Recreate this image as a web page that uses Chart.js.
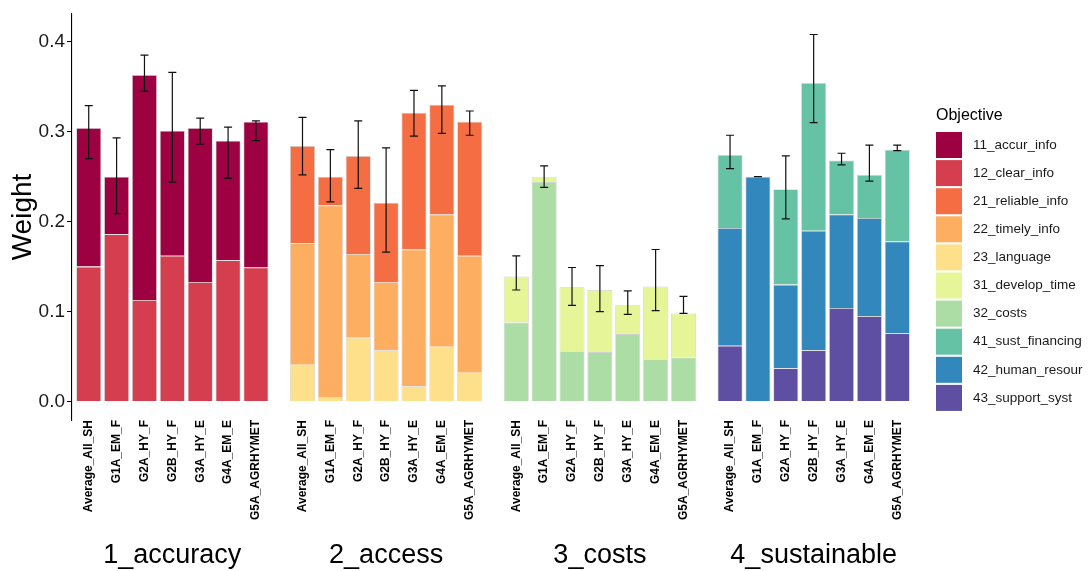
<!DOCTYPE html>
<html>
<head>
<meta charset="utf-8">
<script src="https://cdn.jsdelivr.net/npm/chart.js@4.4.1/dist/chart.umd.min.js"></script>
<style>
	body { margin: 0; background: #fff; }
	#myChart { display: block; }
</style>
</head>
<body>
<canvas id="myChart" width="1090" height="571"></canvas>
<script>
var groups = ['Average_All_SH', 'G1A_EM_F', 'G2A_HY_F', 'G2B_HY_F', 'G3A_HY_E', 'G4A_EM_E', 'G5A_AGRHYMET'];
var facets = ['1_accuracy', '2_access', '3_costs', '4_sustainable'];
var objectives = ['11_accur_info', '12_clear_info', '21_reliable_info', '22_timely_info', '23_language',
	'31_develop_time', '32_costs', '41_sust_financing', '42_human_resour', '43_support_syst'];
var objectiveColors = ['#9E0142', '#D53E4F', '#F46D43', '#FDAE61', '#FEE08B',
	'#E6F598', '#ABDDA4', '#66C2A5', '#3288BD', '#5E4FA2'];
var objectiveFacet = [0, 0, 1, 1, 1, 2, 2, 3, 3, 3];

// weight of each objective, one value per group
var accurInfo     = [0.154, 0.064, 0.250, 0.139, 0.171, 0.133, 0.162];
var clearInfo     = [0.150, 0.186, 0.113, 0.162, 0.133, 0.157, 0.149];
var reliableInfo  = [0.108, 0.032, 0.109, 0.088, 0.152, 0.122, 0.149];
var timelyInfo    = [0.135, 0.213, 0.093, 0.076, 0.152, 0.147, 0.130];
var language      = [0.041, 0.005, 0.071, 0.057, 0.017, 0.061, 0.032];
var developTime   = [0.051, 0.006, 0.071, 0.069, 0.032, 0.081, 0.049];
var costs         = [0.088, 0.244, 0.056, 0.055, 0.075, 0.047, 0.049];
var sustFinancing = [0.081, 0.000, 0.106, 0.164, 0.060, 0.048, 0.102];
var humanResour   = [0.131, 0.250, 0.093, 0.133, 0.104, 0.109, 0.102];
var supportSyst   = [0.062, 0.000, 0.037, 0.057, 0.104, 0.095, 0.076];

// error bars on the total of each facet
var accuracyLow  = [0.270, 0.209, 0.345, 0.244, 0.286, 0.248, 0.290];
var accuracyHigh = [0.329, 0.293, 0.385, 0.366, 0.315, 0.305, 0.312];
var accessLow    = [0.252, 0.222, 0.237, 0.166, 0.295, 0.298, 0.296];
var accessHigh   = [0.316, 0.280, 0.312, 0.282, 0.346, 0.351, 0.323];
var costsLow     = [0.124, 0.238, 0.107, 0.100, 0.097, 0.101, 0.098];
var costsHigh    = [0.162, 0.262, 0.149, 0.151, 0.123, 0.169, 0.117];
var sustainLow   = [0.259, 0.250, 0.203, 0.310, 0.263, 0.245, 0.279];
var sustainHigh  = [0.296, 0.250, 0.273, 0.408, 0.276, 0.285, 0.285];

var yTicks = [0, 0.1, 0.2, 0.3, 0.4];

var objectiveValues = [accurInfo, clearInfo, reliableInfo, timelyInfo, language,
	developTime, costs, sustFinancing, humanResour, supportSyst];
var errLow = [accuracyLow, accessLow, costsLow, sustainLow];
var errHigh = [accuracyHigh, accessHigh, costsHigh, sustainHigh];

var FACET_STEP = 7.67;	// distance between facet panels, in bar units
var FONT = "'Liberation Sans', Arial, sans-serif";

function _xPos(facetIdx, groupIdx) {
	return facetIdx * FACET_STEP + groupIdx;
}

var _xTickValues = [];
var _xTickLabels = [];
facets.forEach(function(f, fi) {
	groups.forEach(function(g, gi) {
		_xTickValues.push(_xPos(fi, gi));
		_xTickLabels.push(g);
	});
});

// ggplot stacks the first level on top -> push datasets in reverse
var _datasets = [];
for (var k = objectives.length - 1; k >= 0; k--) {
	var pts = objectiveValues[k].map(function(v, gi) {
		return { x: _xPos(objectiveFacet[k], gi), y: v };
	});
	_datasets.push({
		label: objectives[k],
		data: pts,
		backgroundColor: objectiveColors[k],
		borderColor: 'rgba(205,205,205,0.9)',
		borderWidth: 0.8,
		categoryPercentage: 1.0,
		barPercentage: 0.9
	});
}

var errorBarPlugin = {
	id: 'errorBars',
	afterDatasetsDraw: function(chart) {
		var ctx = chart.ctx;
		var xs = chart.scales.x, ys = chart.scales.y;
		ctx.save();
		ctx.strokeStyle = '#111';
		ctx.lineWidth = 1.2;
		facets.forEach(function(f, fi) {
			groups.forEach(function(g, gi) {
				var px = xs.getPixelForValue(_xPos(fi, gi));
				var lo = ys.getPixelForValue(errLow[fi][gi]);
				var hi = ys.getPixelForValue(errHigh[fi][gi]);
				ctx.beginPath();
				ctx.moveTo(px, lo); ctx.lineTo(px, hi);
				ctx.moveTo(px - 4, lo); ctx.lineTo(px + 4, lo);
				ctx.moveTo(px - 4, hi); ctx.lineTo(px + 4, hi);
				ctx.stroke();
			});
		});
		ctx.restore();
	}
};

var facetLabelPlugin = {
	id: 'facetLabels',
	afterDraw: function(chart) {
		var ctx = chart.ctx;
		var xs = chart.scales.x;
		ctx.save();
		ctx.fillStyle = '#000';
		ctx.font = '27px ' + FONT;
		ctx.textAlign = 'center';
		ctx.textBaseline = 'alphabetic';
		facets.forEach(function(f, fi) {
			ctx.fillText(f, xs.getPixelForValue(_xPos(fi, 3)), 563);
		});
		ctx.restore();
	}
};

var legendPlugin = {
	id: 'objLegend',
	afterDraw: function(chart) {
		var ctx = chart.ctx;
		var left = 936;
		ctx.save();
		ctx.fillStyle = '#000';
		ctx.font = '16px ' + FONT;
		ctx.textBaseline = 'middle';
		ctx.fillText('Objective', left, 116);
		ctx.font = '13.5px ' + FONT;
		objectives.forEach(function(o, k) {
			var top = 132 + k * 28.1;
			ctx.fillStyle = objectiveColors[k];
			ctx.fillRect(left, top, 26, 26);
			ctx.fillStyle = '#1a1a1a';
			ctx.fillText(o, left + 37, top + 13);
		});
		ctx.restore();
	}
};

var _config = {
	type: 'bar',
	data: { datasets: _datasets },
	options: {
		responsive: false,
		animation: false,
		layout: { padding: { left: 0, top: 14, right: 176, bottom: 0 } },
		plugins: {
			legend: { display: false },
			tooltip: { enabled: false }
		},
		scales: {
			x: {
				type: 'linear',
				stacked: true,
				offset: false,
				min: -0.6,
				max: 3 * FACET_STEP + 6.6,
				grid: { display: false, drawTicks: false },
				border: { display: false },
				afterBuildTicks: function(scale) {
					scale.ticks = _xTickValues.map(function(v) { return { value: v }; });
				},
				afterFit: function(scale) { scale.height = 151; },
				ticks: {
					autoSkip: false,
					minRotation: 90,
					maxRotation: 90,
					padding: 0,
					color: '#000',
					font: { family: FONT, size: 12, weight: 'bold' },
					callback: function(value, index) { return _xTickLabels[index]; }
				}
			},
			y: {
				stacked: true,
				min: -0.0205,
				max: 0.4308,
				afterBuildTicks: function(scale) {
					scale.ticks = yTicks.map(function(v) { return { value: v }; });
				},
				afterFit: function(scale) { scale.width = 72; },
				grid: { drawOnChartArea: false, drawTicks: true, tickLength: 5, color: '#000' },
				border: { display: true, color: '#000', width: 1.1 },
				ticks: {
					padding: 2,
					color: '#1a1a1a',
					font: { family: FONT, size: 19 },
					callback: function(value) { return value.toFixed(1); }
				},
				title: {
					display: true,
					text: 'Weight',
					color: '#000',
					padding: { top: 6, bottom: 0 },
					font: { family: FONT, size: 28 }
				}
			}
		}
	},
	plugins: [errorBarPlugin, facetLabelPlugin, legendPlugin]
};

var myChart = new Chart(document.getElementById('myChart'), _config);
</script>
</body>
</html>
